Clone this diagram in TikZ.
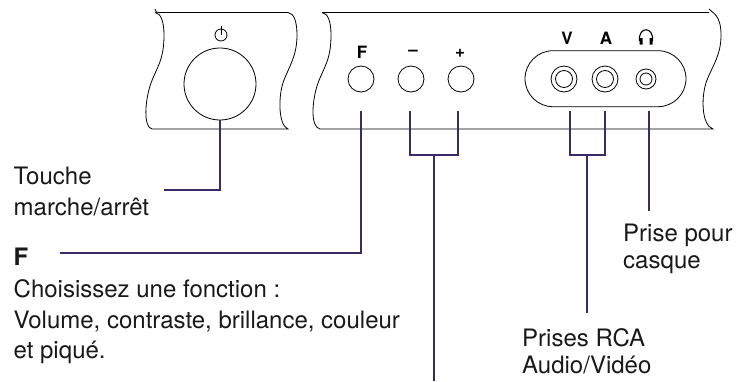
\documentclass[tikz,border=0pt]{standalone}
\usepackage{fontspec}
\setmainfont{TeX Gyre Heros}
\definecolor{lead}{HTML}{3A2A68}
\tikzset{
 outline/.style={draw=black,line width=0.8pt},
 btn/.style={circle,outline,minimum size=26pt,inner sep=0pt},
 leadline/.style={draw=lead,line width=2pt},
 lab/.style={anchor=base west,inner sep=0pt,font=\fontsize{24}{27}\selectfont,text=black!90},
 key/.style={anchor=center,inner sep=0pt,font=\fontsize{17}{17}\selectfont\bfseries}
}
\begin{document}
\begin{tikzpicture}[x=1pt,y=-1pt]
\useasboundingbox (0,0) rectangle (750,381);
% panels
\draw[outline] (155,9) .. controls (155,12) and (157,12.5) .. (159,12.5) -- (288,12.5)
  .. controls (294,13) and (297,22) .. (297,35) .. controls (297,55) and (290,65) .. (284,80)
  .. controls (278,95) and (278,125) .. (288,129) -- (152,129)
  .. controls (143,127) and (145,100) .. (151,83) .. controls (157,67) and (164,60) .. (164,35)
  .. controls (164,22) and (161,13) .. (155,12.5);
\draw[outline] (322,12.5) -- (709,12.5) (709,9) .. controls (712,13) and (721,14) .. (721,35)
  .. controls (721,55) and (713,65) .. (707,80) .. controls (701,95) and (701,125) .. (713,129) -- (320,129)
  .. controls (310,127) and (312,100) .. (318,83) .. controls (324,67) and (331,60) .. (331,35)
  .. controls (331,22) and (328,13) .. (322,12.5);
\node[circle,outline,minimum size=72pt,inner sep=0pt] (power) at (220,84) {};
\node[circle,outline,minimum size=12pt,inner sep=0pt] (pw) at (221,35) {};
\coordinate (pwtop) at (221,26);
\draw[outline] (pwtop) -- (pw.center);
\node[btn] (bf) at (361,79) {};
\node[btn] (bm) at (411,79) {};
\node[btn] (bp) at (461,79) {};
\node[key] (kf) at (362,52) {F};
\node[key] (km) at (413,53) {–};
\node[key] (kp) at (460,53) {+};
\node[key] (kv) at (567,38) {V};
\node[key] (ka) at (606,38) {A};
\draw[outline,rounded corners=28pt] (525,50.7) rectangle (686,106.7);
\foreach \n/\x in {v/564,a/605}{
 \node[btn] (j\n) at (\x,79) {};
 \node[circle,outline,minimum size=17pt,inner sep=0pt] (i\n) at (\x,79) {};
}
\node[circle,outline,minimum size=20pt,inner sep=0pt] (jh) at (646,79) {};
\node[circle,outline,minimum size=12pt,inner sep=0pt] (ih) at (646,79) {};
% headphone
\draw[black,line width=1.1pt] (639.5,41) .. controls (638,26) and (654,26) .. (652.5,41);
\fill[black] (639.5,38) rectangle (642.5,44.5) (649.5,38) rectangle (652.5,44.5);
% leaders
\coordinate (e1) at (164,190);
\coordinate (c1) at (220,190);
\draw[leadline,line join=miter] (power.south) -- (c1) -- (e1);
\coordinate (f0) at (360.5,111);
\coordinate (f1) at (360.5,253);
\coordinate (f2) at (60,253);
\draw[leadline] (f0) -- (f1) -- (f2);
\coordinate (m0) at (410,111);
\coordinate (m1) at (410,155);
\coordinate (p0) at (458,111);
\coordinate (p1) at (458,155);
\coordinate (s0) at (434,155);
\coordinate (s1) at (434,381);
\draw[leadline] (m0) -- (m1) -- (p1) -- (p0);
\draw[leadline] (s0) -- (s1);
\coordinate (v0) at (570,111);
\coordinate (v1) at (570,155);
\coordinate (a0) at (605,111);
\coordinate (a1) at (605,155);
\coordinate (t0) at (587,155);
\coordinate (t1) at (587,313);
\draw[leadline] (v0) -- (v1) -- (a1) -- (a0);
\draw[leadline] (t0) -- (t1);
\coordinate (h0) at (649,111);
\coordinate (h1) at (649,211);
\draw[leadline] (h0) -- (h1);
% labels
\node[lab] (l1) at (13.5,184) {Touche};
\node[lab] (l2) at (13.5,215.5) {marche/arrêt};
\node[lab,font=\fontsize{24}{27}\selectfont\bfseries] (l3) at (13.5,265) {F};
\node[lab] (l4) at (13.5,297) {Choisissez une fonction :};
\node[lab] (l5) at (13.5,328) {Volume, contraste, brillance, couleur};
\node[lab] (l6) at (13.5,358.5) {et piqué.};
\node[lab] (l7) at (623,241) {Prise pour};
\node[lab] (l8) at (623,268) {casque};
\node[lab] (l9) at (522,346) {Prises RCA};
\node[lab] (l10) at (522,373) {Audio/Vidéo};
\end{tikzpicture}
\end{document}
